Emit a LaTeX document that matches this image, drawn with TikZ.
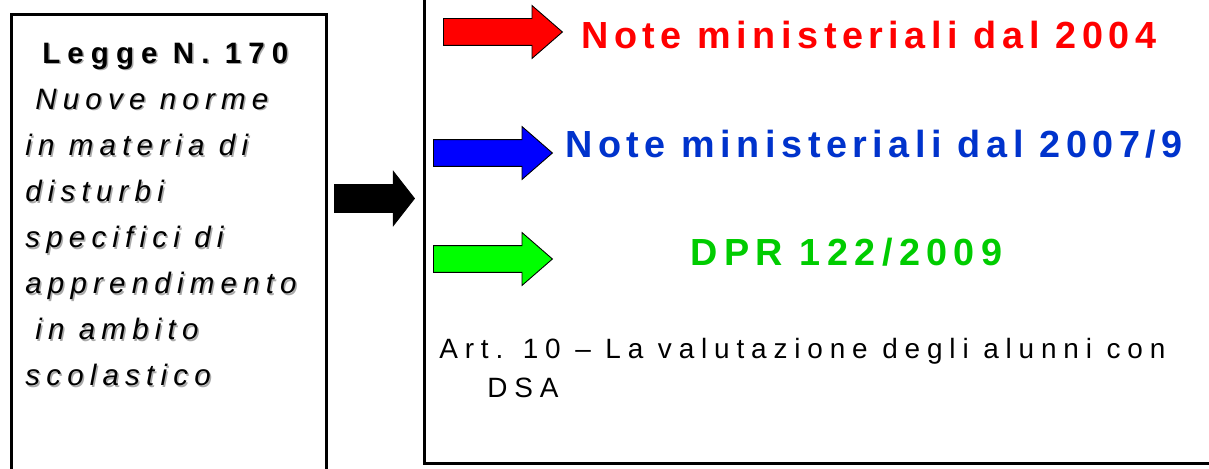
\documentclass[tikz,border=0pt]{standalone}
\usepackage{fontspec}
\setmainfont{Liberation Sans}
\usetikzlibrary{shapes.arrows,positioning}
\definecolor{ArrRed}   {RGB}{255,  0,  0}
\definecolor{ArrBlue}  {RGB}{  0,  0,255}
\definecolor{ArrGreen} {RGB}{  0,255,  0}
\definecolor{TxtBlue}  {RGB}{  0, 51,204}
\definecolor{TxtGreen} {RGB}{  0,204,  0}
\definecolor{ShadowGray}{RGB}{170,170,170}
\tikzset{
  %% cornici
  bigbox/.style={rectangle,draw=black,line width=1.7pt,inner sep=0pt},
  %% frecce piene
  blkarrow/.style={single arrow,draw=black,line width=0.5pt,
                   inner xsep=0pt,inner ysep=0.26cm,anchor=tail,
                   single arrow head extend=0.26cm,
                   single arrow tip angle=82,minimum height=2.38cm},
  mainarrow/.style={single arrow,draw=black,fill=black,line width=0.5pt,
                    inner xsep=0pt,inner ysep=0.27cm,anchor=tail,
                    single arrow head extend=0.26cm,
                    single arrow tip angle=104,minimum height=1.6cm},
  %% testi
  lawtext/.style={inner sep=0pt,anchor=north west,align=left,
                  font=\fontsize{16.8}{26.2}\selectfont\itshape\addfontfeatures{LetterSpace=21}},
  headtext/.style={inner sep=0pt,anchor=base west,
                   font=\fontsize{21.5}{24}\selectfont\bfseries\addfontfeatures{LetterSpace=14.6}},
  arttext/.style={inner sep=0pt,anchor=north west,align=left,
                  font=\fontsize{15.9}{22.2}\selectfont\addfontfeatures{LetterSpace=24.5}},
}
\newcommand{\leggetesto}{%
  \hspace*{0.34cm}\textup{\bfseries\addfontfeatures{LetterSpace=24}Legge N. 170}\\
  \hspace*{0.2cm}Nuove norme\\
  in materia di\\
  disturbi\\
  specifici di\\
  apprendimento\\
  \hspace*{0.2cm}in ambito\\
  scolastico}
\begin{document}
\begin{tikzpicture}[x=0.02cm,y=-0.02cm]
  \path[use as bounding box,clip] (0,0) rectangle (1209,469);

  %% ── cornice sinistra: Legge 170 ──────────────────
  \node[bigbox,anchor=north west,minimum width=6.3cm,minimum height=10cm]
    (legge) at (10,13) {};
  \node[lawtext,text=ShadowGray] (leggeombra) at (26.5,44) {\leggetesto};
  \node[lawtext] (leggetxt) at (25,42.5) {\leggetesto};

  %% freccia centrale
  \node[mainarrow] (freccia) at (334,198.5) {};

  %% ── cornice destra ──────────────────────────────
  \node[bigbox,anchor=south west,minimum width=17cm,minimum height=11cm]
    (norme) at (423,465) {};

  \node[blkarrow,fill=ArrRed]   (arrnote04) at (443,32)  {};
  \node[blkarrow,fill=ArrBlue]  (arrnote07) at (433,153) {};
  \node[blkarrow,fill=ArrGreen] (arrdpr)    at (433,259) {};

  \node[headtext,text=ArrRed]  (note04) at (581,49)  {Note ministeriali dal 2004};
  \node[headtext,text=TxtBlue] (note07) at (565,158) {Note ministeriali dal 2007/9};
  \node[headtext,text=TxtGreen,font=\fontsize{21.5}{24}\selectfont\bfseries\addfontfeatures{LetterSpace=17}]
    (dpr) at (690,266) {DPR 122/2009};

  \node[arttext] (art10) at (439,338)
    {Art. 10 – La valutazione degli alunni con\\
     \hspace*{0.96cm}DSA};
\end{tikzpicture}
\end{document}
